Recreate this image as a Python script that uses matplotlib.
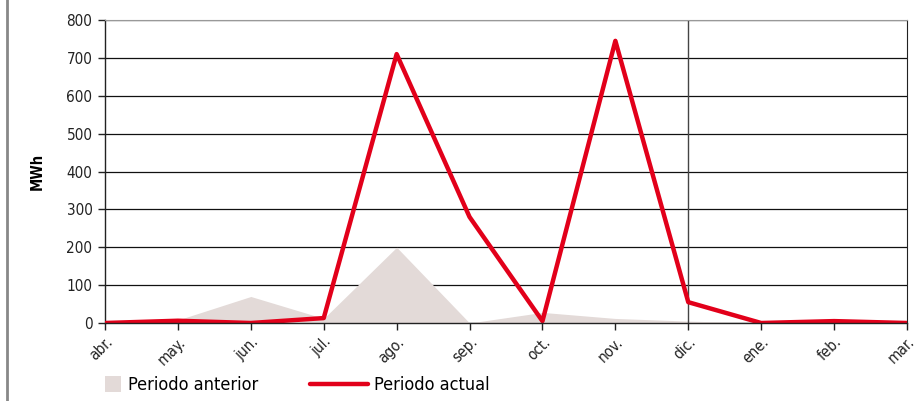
import matplotlib.pyplot as plt
from matplotlib.lines import Line2D
from matplotlib.patches import Patch

months = ["abr.", "may.", "jun.", "jul.", "ago.", "sep.", "oct.", "nov.", "dic.", "ene.", "feb.", "mar."]
periodo_anterior = [0, 8, 70, 12, 200, 0, 28, 12, 5, 0, 0, 0]
periodo_actual = [0, 6, 0, 13, 710, 280, 5, 745, 55, 0, 5, 0]
yticks = [0, 100, 200, 300, 400, 500, 600, 700, 800]

plt.rcParams["font.family"] = ["DejaVu Sans"]
plt.rcParams["font.stretch"] = "condensed"

red = "#e2001a"
grey_area = "#e3dad8"

fig = plt.figure(figsize=(9.2, 4.01), dpi=100)
ax = fig.add_axes([105 / 920, 1 - 323 / 401, (907 - 105) / 920, (323 - 20) / 401])

x = list(range(len(months)))
ax.fill_between(x, periodo_anterior, 0, color=grey_area, lw=0, zorder=1)
ax.plot(x, periodo_actual, color=red, lw=3.2, solid_capstyle="round", zorder=3)

ax.set_xlim(0, len(months) - 1)
ax.set_ylim(0, 800)
ax.set_yticks(yticks)
ax.set_xticks(x)
ax.set_xticklabels(months, rotation=45, ha="right", va="top", rotation_mode="anchor")
ax.tick_params(axis="x", length=5, width=1, colors="#222222", labelsize=11, pad=3)
ax.tick_params(axis="y", length=5, width=1, colors="#222222", labelsize=11, pad=4)
ax.yaxis.grid(True, color="#111111", lw=0.9, zorder=0)
ax.set_axisbelow(True)
ax.axvline(8, color="#444444", lw=1, zorder=2)

for s in ["left", "bottom"]:
    ax.spines[s].set_color("#222222")
    ax.spines[s].set_linewidth(1)
ax.spines["top"].set_color("#999999")
ax.spines["right"].set_color("#222222")
ax.spines["bottom"].set_zorder(4)

ax.set_ylabel("MWh", fontweight="bold", fontsize=10.5, labelpad=16)

# left border line of the figure
fig.add_artist(Line2D([7.5 / 920, 7.5 / 920], [0, 1], color="#888888", lw=2))

handles = [Patch(facecolor=grey_area, edgecolor="none"),
           Line2D([0], [0], color=red, lw=3.2, solid_capstyle="round")]
fig.legend(handles[:1], ["Periodo anterior"], loc="center left",
           bbox_to_anchor=(105 / 920, 1 - 385 / 401), frameon=False, fontsize=13,
           handlelength=0.9, handleheight=1.0, handletextpad=0.4,
           borderpad=0, borderaxespad=0)
fig.legend(handles[1:], ["Periodo actual"], loc="center left",
           bbox_to_anchor=(310 / 920, 1 - 385 / 401), frameon=False, fontsize=13,
           handlelength=3.2, handletextpad=0.35, borderpad=0, borderaxespad=0)

fig.savefig("out.png", dpi=100)
